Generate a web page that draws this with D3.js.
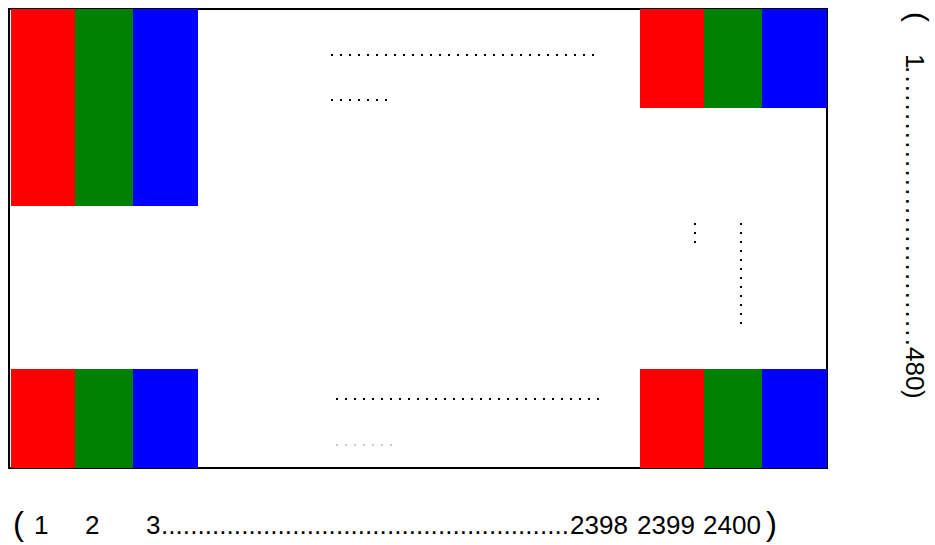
<!DOCTYPE html>
<html lang="en">
<head>
    <meta charset="utf-8">
    <title>Display subpixel layout 2400 x 480</title>
    <script type="text/javascript" src="https://d3js.org/d3.v7.min.js"></script>
    <style type="text/css">
        body { margin: 0; background: #fff; }
        text { font-family: "Liberation Sans", Arial, sans-serif; fill: #000; }
    </style>
</head>
<body>
<script type="text/javascript">
    // subpixel channels of one pixel
    var channels = ["R", "G", "B"];
    var channelColors = ["#ff0000", "#008000", "#0000ff"];

    // the four corner pixels that are drawn (first / last column and row)
    var pixelCols = ["first", "last"];
    var pixelRows = ["first", "last"];
    var cornerCol = ["first", "last", "first", "last"];
    var cornerRow = ["first", "first", "last", "last"];
    var cornerRowSpan = [2, 1, 1, 1];   // top-left block is drawn twice as tall

    // labels
    var xLabels = ["1", "2", "3", "2398", "2399", "2400"];
    var yLabels = ["1", "480"];

    var w = 935;
    var h = 545;

    var svg = d3.select("body").append("svg")
            .attr("width", w)
            .attr("height", h);

    // panel frame
    svg.append("rect")
            .attr("x", 9)
            .attr("y", 9)
            .attr("width", 818)
            .attr("height", 459)
            .attr("fill", "none")
            .attr("stroke", "#000")
            .attr("stroke-width", 2);

    var xPixel = d3.scaleOrdinal().domain(pixelCols).range([11, 640]);
    var yPixel = d3.scaleOrdinal().domain(pixelRows).range([9, 369]);
    // subpixel stripes are not quite equal in the drawing
    var xSub = d3.scaleOrdinal().domain(channels).range([0, 64, 122]);
    var wSub = d3.scaleOrdinal().domain(channels).range([64, 58, 65]);
    var rowH = d3.scaleLinear().domain([0, 1]).range([0, 98.5]);
    var color = d3.scaleOrdinal().domain(channels).range(channelColors);

    var corners = cornerCol.map(function (c, i) {
        return { col: c, row: cornerRow[i], span: cornerRowSpan[i] };
    });

    var pix = svg.selectAll("g.pixel")
            .data(corners)
            .enter()
            .append("g")
            .attr("class", "pixel")
            .attr("transform", function (d) {
                return "translate(" + xPixel(d.col) + "," + yPixel(d.row) + ")";
            });

    pix.selectAll("rect")
            .data(function (d) {
                return channels.map(function (ch) { return { ch: ch, span: d.span }; });
            })
            .enter()
            .append("rect")
            .attr("x", function (d) { return xSub(d.ch); })
            .attr("y", 0)
            .attr("width", function (d) { return wSub(d.ch); })
            .attr("height", function (d) { return Math.round(rowH(d.span)); })
            .attr("fill", function (d) { return color(d.ch); });

    // ellipsis dots between the drawn pixels
    function dots(x, y, n, vertical, col, sw) {
        var gap = 9;
        var len = (n - 1) * gap + 2;
        svg.append("line")
                .attr("x1", x)
                .attr("y1", y)
                .attr("x2", vertical ? x : x + len)
                .attr("y2", vertical ? y + len : y)
                .attr("stroke", col || "#000")
                .attr("stroke-width", sw || 2)
                .attr("stroke-dasharray", "2 7");
    }
    dots(331, 55, 30, false);
    dots(331, 100, 7, false);
    dots(336, 399, 30, false);
    dots(336, 445, 7, false, "#999", 1);
    dots(695, 223, 3, true);
    dots(741, 223, 12, true);

    // bottom label: (1 2 3 .... 2398 2399 2400)
    var xLabelPos = d3.scaleOrdinal().domain(xLabels).range([34, 85, 146, 570, 637, 703]);
    var bottom = svg.append("g");
    bottom.append("text").attr("x", 13).attr("y", 535).attr("font-size", 33).text("(");
    bottom.selectAll("text.lbl")
            .data(xLabels)
            .enter()
            .append("text")
            .attr("class", "lbl")
            .attr("x", function (d) { return xLabelPos(d); })
            .attr("y", 534)
            .attr("font-size", 26)
            .text(function (d) { return d; });
    bottom.append("text")
            .attr("x", 161)
            .attr("y", 534)
            .attr("font-size", 26)
            .attr("textLength", 408)
            .attr("lengthAdjust", "spacing")
            .text(d3.range(56).map(function () { return "."; }).join(""));
    bottom.append("text").attr("x", 766).attr("y", 535).attr("font-size", 33).text(")");

    // right label, rotated: (1 .... 480)
    var side = svg.append("g").attr("transform", "translate(906,0) rotate(90)");
    var yLabelPos = d3.scaleOrdinal().domain(yLabels).range([54, 347]);
    side.append("text").attr("x", 12).attr("y", -1).attr("font-size", 30).text("(");
    side.selectAll("text.lbl")
            .data(yLabels)
            .enter()
            .append("text")
            .attr("class", "lbl")
            .attr("x", function (d) { return yLabelPos(d); })
            .attr("y", 0)
            .attr("font-size", 26)
            .text(function (d) { return d; });
    side.append("text")
            .attr("x", 66)
            .attr("y", 0)
            .attr("font-size", 26)
            .attr("textLength", 280)
            .attr("lengthAdjust", "spacing")
            .text(d3.range(30).map(function () { return "."; }).join(""));
    side.append("text").attr("x", 390).attr("y", 0).attr("font-size", 26).text(")");
</script>
</body>
</html>
